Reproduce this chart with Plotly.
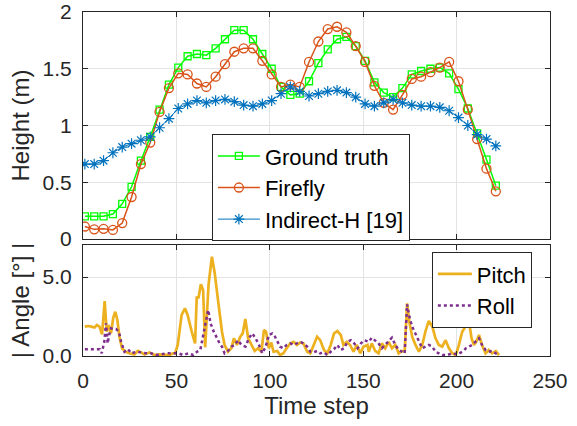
import plotly.graph_objects as go

# ---------------- data ----------------
t_height = [1 + 5 * k for k in range(45)]

ground_truth = [0.20, 0.20, 0.20, 0.22, 0.31, 0.46, 0.69, 0.90, 1.14, 1.36, 1.51, 1.61, 1.63, 1.62, 1.68,
                1.76, 1.84, 1.84, 1.76,
                1.63, 1.50, 1.34, 1.27, 1.28, 1.39, 1.55, 1.67, 1.76, 1.78, 1.70, 1.57, 1.38, 1.29, 1.25,
                1.33, 1.45, 1.48, 1.50, 1.51, 1.46, 1.32, 1.15, 0.93, 0.70, 0.47]

firefly = [0.11, 0.085, 0.09, 0.08, 0.14, 0.37, 0.66, 0.85, 1.12, 1.33, 1.46, 1.45, 1.37, 1.34, 1.43,
           1.54, 1.65, 1.68, 1.68,
           1.57, 1.45, 1.34, 1.36, 1.34, 1.56, 1.74, 1.85, 1.87, 1.82, 1.70, 1.56, 1.35, 1.20, 1.14,
           1.27, 1.41, 1.43, 1.47, 1.51, 1.56, 1.39, 1.14, 0.88, 0.62, 0.42]

indirect_h = [0.66, 0.66, 0.69, 0.76, 0.81, 0.84, 0.87, 0.90, 0.98, 1.06, 1.15, 1.19, 1.22, 1.20, 1.22,
              1.23, 1.21, 1.18, 1.17,
              1.19, 1.22, 1.28, 1.34, 1.30, 1.26, 1.28, 1.30, 1.31, 1.29, 1.25, 1.19, 1.17, 1.20, 1.23,
              1.20, 1.18, 1.17, 1.17, 1.16, 1.13, 1.07, 1.00, 0.92, 0.88, 0.82]

pitch_t = [1, 2.7, 4.5, 6.2, 7.4, 8.8, 10.2, 11.6, 12.7, 13.7, 15, 16.2, 17.3, 18.4, 19.5, 20.9, 22.7,
           24.8, 27.5, 29.3, 31.1, 32.9, 35.6, 38.3, 41, 43.7, 46.4, 48.2, 49.3, 50.7, 52.8, 54.6, 56,
           58.2, 60, 60.9, 61.8, 63.1, 64.3, 65.4, 67.2, 69, 70.4, 72.6, 74.4, 75.8, 77.6, 79.4, 80.8,
           82.4, 84.2, 85.5, 86.9, 88.4, 90.1, 91.9, 93.7, 95.5, 96.9, 98, 99.5, 100.8, 102, 104, 105.5,
           107.3, 109, 111, 112.7, 114.5, 116.3, 118, 120, 121.7, 123.5, 125.3, 127, 129, 130.8, 132.6,
           134.4, 136.2, 138, 139.4, 141.2, 143, 144.8, 146.6, 148.4, 150.1, 152.3, 153, 154.6, 156.4,
           158.2, 160, 161.8, 163.6, 165.4, 167.2, 169, 170.8, 172.2, 173.5, 174.7, 176.2, 178, 179.8,
           181.6, 183.3, 185.1, 187, 188.7, 190.5, 192.3, 194.1, 195.9, 197.7, 199.5, 201, 203, 205,
           206.6, 208, 209.3, 210.5, 212, 213.6, 215.5, 217.2, 219, 221, 222.7]
pitch = [1.86, 1.90, 1.86, 1.80, 1.96, 1.86, 1.37, 3.48, 1.54, 1.96, 1.43, 2.43, 2.80, 2.28, 1.22, 0.49,
         0.27, 0.17, 0.10, 0.32, 0.23, 0.10, 0.23, 0.06, 0.10, 0.06, 0.06, 0.17, 0.17, 0.70, 2.60, 3.02,
         2.60, 1.54, 0.80, 3.76, 3.65, 4.54, 4.18, 0.55, 4.50, 6.29, 5.34, 3.23, 1.54, 0.70, 0.27, 0.49,
         1.12, 0.70, 1.22, 1.43, 2.34, 1.12, 0.70, 0.32, 0.49, 0.27, 1.65, 1.54, 0.49, 0.85, 0.27, 0.32,
         0.06, 0.17, 0.49, 0.80, 0.90, 0.70, 0.86, 0.80, 0.27, 0.17, 0.70, 1.22, 1.00, 0.38, 0.17, 0.70,
         1.43, 1.58, 1.33, 0.70, 0.90, 0.70, 0.27, 0.70, 0.17, 0.59, 0.70, 0.27, 0.80, 0.32, 0.17, 0.80,
         0.49, 0.90, 0.49, 0.70, 0.17, 0.32, 0.27, 3.33, 2.17, 1.22, 0.70, 0.27, 0.70, 1.54, 2.22, 1.86,
         1.12, 0.70, 0.59, 1.00, 0.49, 0.17, 0.06, 0.59, 1.54, 1.96, 2.22, 1.12, 0.70, 0.90, 1.33, 0.70,
         0.17, 0.38, 0.17, 0.32, 0.06]

roll_t = [1, 4, 7, 9, 10, 11.4, 12.3, 13.2, 14, 15, 16.2, 17.7, 19.2, 20.4, 22.2, 24, 25.9, 28.6, 31.1,
          33.7, 36.4, 39, 41.8, 44.5, 47.2, 51, 53.7, 56.4, 59, 61, 62.8, 64.5, 65.8, 67, 68.3, 70, 71.8,
          73.1, 74.4, 75.8, 77.6, 79.4, 81.2, 83, 84.8, 87, 88.8, 90.6, 92.4, 94.2, 96, 97.8, 99.5, 101.3,
          102.5, 104, 105.5, 107.3, 109, 111, 112.7, 114.5, 116.3, 118, 120, 121.7, 123.5, 125.3, 127,
          129, 130.8, 132.6, 134.4, 136.2, 138, 139.8, 141.6, 143.4, 145.2, 147, 148.8, 150.6, 153,
          154.6, 156.4, 158.2, 160, 161.8, 163.6, 165.4, 167.2, 169, 170.8, 172.2, 173.5, 174.7, 176.2,
          178, 179.8, 181.6, 183.3, 185.1, 187, 188.7, 190.5, 192.3, 195, 197.7, 200.4, 203, 205, 206.6,
          208.3, 210, 212, 213.6, 215.5, 217.2, 219, 221, 222.7]
roll = [0.42, 0.42, 0.42, 0.42, 0.17, 0.90, 2.07, 0.80, 1.33, 1.75, 1.71, 1.71, 1.54, 0.90, 0.27, 0.44,
        0.17, 0.27, 0.23, 0.17, 0.17, 0.06, 0.10, 0.17, 0.17, 0.17, 0.06, 0.17, 0.06, 0.27, 0.38, 1.33,
        2.28, 2.91, 2.07, 1.54, 1.12, 0.80, 0.59, 0.17, 0.32, 0.59, 0.70, 1.00, 0.70, 0.59, 1.12, 1.43,
        1.12, 0.70, 0.17, 0.59, 1.33, 1.43, 1.29, 0.90, 0.59, 0.49, 0.70, 0.80, 0.70, 0.80, 0.90, 0.80,
        0.59, 0.27, 0.23, 0.32, 0.17, 0.23, 0.06, 0.27, 0.44, 0.70, 0.38, 0.49, 0.90, 1.00, 0.80, 0.49,
        0.80, 1.00, 0.90, 1.16, 1.00, 0.80, 0.49, 0.70, 0.90, 1.16, 0.70, 0.38, 0.27, 0.17, 3.27, 2.49,
        1.86, 1.37, 0.90, 0.49, 0.59, 0.70, 0.59, 0.27, 0.17, 0.06, 0.06, 0.17, 0.10, 0.27, 0.49, 0.59,
        0.70, 0.90, 1.12, 0.70, 0.38, 0.27, 0.32, 0.17, 0.06]

x_ticks = [0, 50, 100, 150, 200, 250]
height_ticks = [0, 0.5, 1, 1.5, 2]
height_ticklabels = ["0", "0.5", "1", "1.5", "2"]
angle_ticks = [0, 5]
angle_ticklabels = ["0.0", "5.0"]

# ---------------- styles ----------------
C_GT = "#00FF00"
C_FF = "#D95319"
C_IH = "#0072BD"
C_PITCH = "#EDB120"
C_ROLL = "#7E2F8E"
AX = "#262626"
GRID = "#E3E3E3"
FONT = "Liberation Sans, Arial, sans-serif"

fig = go.Figure()

fig.add_trace(go.Scatter(
    x=t_height, y=ground_truth, name="Ground truth", mode="lines+markers",
    line=dict(color=C_GT, width=1.5),
    marker=dict(symbol="square-open", size=7, color=C_GT, line=dict(color=C_GT, width=1.3)),
    xaxis="x", yaxis="y", legend="legend"))
fig.add_trace(go.Scatter(
    x=t_height, y=firefly, name="Firefly", mode="lines+markers",
    line=dict(color=C_FF, width=1.5),
    marker=dict(symbol="circle-open", size=9, color=C_FF, line=dict(color=C_FF, width=1.3)),
    xaxis="x", yaxis="y", legend="legend"))
fig.add_trace(go.Scatter(
    x=t_height, y=indirect_h, name="Indirect-H [19]", mode="lines+markers",
    line=dict(color=C_IH, width=1),
    marker=dict(symbol="asterisk-open", size=9, color=C_IH, line=dict(color=C_IH, width=1.2)),
    xaxis="x", yaxis="y", legend="legend"))

fig.add_trace(go.Scatter(
    x=pitch_t, y=pitch, name="Pitch", mode="lines",
    line=dict(color=C_PITCH, width=2.7),
    xaxis="x2", yaxis="y2", legend="legend2"))
fig.add_trace(go.Scatter(
    x=roll_t, y=roll, name="Roll", mode="lines",
    line=dict(color=C_ROLL, width=2.5, dash="dot"),
    xaxis="x2", yaxis="y2", legend="legend2"))

axis_common = dict(
    showline=True, linecolor=AX, linewidth=1, mirror="ticks",
    ticks="inside", ticklen=5, tickcolor=AX,
    showgrid=True, gridcolor=GRID, gridwidth=1, zeroline=False,
    tickfont=dict(size=21, color=AX, family=FONT),
    automargin=False,
)

fig.update_layout(
    width=577, height=426,
    margin=dict(l=83, r=27, t=12, b=70),
    paper_bgcolor="white", plot_bgcolor="white",
    font=dict(family=FONT, color=AX),
    xaxis=dict(domain=[0, 1], range=[0, 250], tickvals=x_ticks, showticklabels=False,
               anchor="y", **axis_common),
    yaxis=dict(domain=[0.3401, 1.0], range=[0, 2], tickvals=height_ticks,
               ticktext=height_ticklabels, anchor="x", ticklabelstandoff=6,
               title=dict(text="Height (m)", font=dict(size=24, color=AX, family=FONT), standoff=6),
               **axis_common),
    xaxis2=dict(domain=[0, 1], range=[0, 250], tickvals=x_ticks, anchor="y2",
                ticklabelstandoff=6,
                title=dict(text="Time step", font=dict(size=24, color=AX, family=FONT), standoff=4),
                **axis_common),
    yaxis2=dict(domain=[0, 0.3227], range=[0, 7.03], tickvals=angle_ticks,
                ticktext=angle_ticklabels, anchor="x2", ticklabelstandoff=6,
                title=dict(text="| Angle [°] |", font=dict(size=24, color=AX, family=FONT), standoff=6),
                **axis_common),
    legend=dict(x=0.276, y=0.645, xanchor="left", yanchor="top",
                bgcolor="white", bordercolor=AX, borderwidth=1,
                font=dict(size=22, color="black", family=FONT),
                itemwidth=42, tracegroupgap=0),
    legend2=dict(x=0.747, y=0.302, xanchor="left", yanchor="top",
                 bgcolor="white", bordercolor=AX, borderwidth=1,
                 font=dict(size=22, color="black", family=FONT),
                 itemwidth=34, tracegroupgap=0),
    showlegend=True,
)

fig.write_html("out.html",
               config={"displayModeBar": False},
               post_script="document.body.style.margin='0px';document.body.style.padding='0px';")
